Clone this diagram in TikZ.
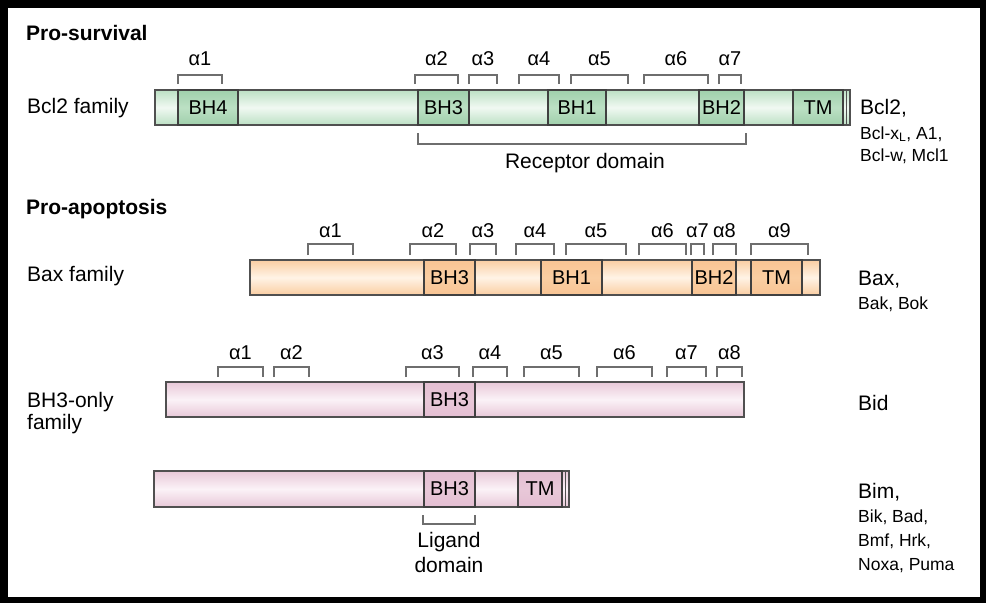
\documentclass[tikz,border=0pt]{standalone}
\usepackage{fontspec}
\setmainfont{Liberation Sans}
\usetikzlibrary{positioning}

\definecolor{survedge}{RGB}{188,224,196}
\definecolor{survmid}{RGB}{240,249,242}
\definecolor{survdom}{RGB}{160,208,172}
\definecolor{apopedge}{RGB}{250,206,162}
\definecolor{apopmid}{RGB}{255,243,230}
\definecolor{apopdom}{RGB}{248,196,148}
\definecolor{onlyedge}{RGB}{232,200,216}
\definecolor{onlymid}{RGB}{251,242,247}
\definecolor{onlydom}{RGB}{228,190,210}
\definecolor{edgegray}{RGB}{80,80,80}
\definecolor{bracketgray}{RGB}{110,110,110}

\tikzstyle{protein} = [rectangle, draw=edgegray, line width=1.3pt, inner sep=0pt, outer sep=0pt, minimum height=35pt, anchor=north west]
\tikzstyle{survbar} = [protein, top color=survedge, bottom color=survedge, middle color=survmid]
\tikzstyle{apopbar} = [protein, top color=apopedge, bottom color=apopedge, middle color=apopmid]
\tikzstyle{onlybar} = [protein, top color=onlyedge, bottom color=onlyedge, middle color=onlymid]
\tikzstyle{dombox} = [protein, draw=black!75, font=\fontsize{20}{24}\selectfont, text=black]
\tikzstyle{survbox} = [dombox, top color=survdom, bottom color=survdom, middle color=survedge]
\tikzstyle{apopbox} = [dombox, top color=apopdom, bottom color=apopdom, middle color=apopedge]
\tikzstyle{onlybox} = [dombox, top color=onlydom, bottom color=onlydom, middle color=onlyedge]
\tikzstyle{helix} = [draw=bracketgray, line width=1.8pt]
\tikzstyle{helixlabel} = [font=\fontsize{20}{24}\selectfont, anchor=base, inner sep=0pt, text=black]
\tikzstyle{heading} = [font=\bfseries\fontsize{21}{24}\selectfont, anchor=base west, inner sep=0pt]
\tikzstyle{family} = [font=\fontsize{21}{22}\selectfont, anchor=base west, inner sep=0pt, align=left]
\tikzstyle{member} = [font=\fontsize{21}{24}\selectfont, anchor=base west, inner sep=0pt]
\tikzstyle{others} = [font=\fontsize{17.5}{20}\selectfont, anchor=base west, inner sep=0pt]

\begin{document}
\begin{tikzpicture}[x=1pt, y=-1pt]

% --- Frame ---
\useasboundingbox (0,0) rectangle (986,603);
\fill[black] (0,0) rectangle (986,603);
\fill[white] (8,8) rectangle (980,597);

% --- Pro-survival: Bcl2 family ---
\node (prosurv) [heading] at (26,40) {Pro-survival};
\node (bclfam) [family] at (27,113) {Bcl2 family};
\node (bclbar) [survbar, minimum width=695pt] at (155,90) {};
\node (bh4) [survbox, minimum width=60pt] at (178,90) {BH4};
\node (bclbh3) [survbox, minimum width=51pt] at (418,90) {BH3};
\node (bclbh1) [survbox, minimum width=58pt] at (548,90) {BH1};
\node (bclbh2) [survbox, minimum width=45pt] at (699,90) {BH2};
\node (bcltm) [survbox, minimum width=50pt] at (793,90) {TM};
\draw [draw=edgegray, line width=1pt] ([xshift=-4pt]bclbar.north east) -- ([xshift=-4pt]bclbar.south east);
\foreach \a/\b/\n in {178/222/1, 415/458/2, 469/497/3, 519/559/4, 571/628/5, 644/708/6, 719/741/7} {
    \draw [helix] (\a,84) |- (\b,75) -- (\b,84);
    \node (s\n) [helixlabel] at ({(\a+\b)/2},65) {α\n};
}
\draw [helix] (418,133) |- (746,144) -- (746,133);
\node (receptor) [helixlabel, font=\fontsize{21}{24}\selectfont] at (585,168) {Receptor domain};
\node (bcl2) [member] at (860,114) {Bcl2,};
\node (bclxl) [others] at (860,139) {Bcl-x$_{\mathrm{L}}$, A1,};
\node (bclw) [others] at (860,161) {Bcl-w, Mcl1};

% --- Pro-apoptosis: Bax family ---
\node (proapop) [heading] at (26,214) {Pro-apoptosis};
\node (baxfam) [family] at (27,281) {Bax family};
\node (baxbar) [apopbar, minimum width=570pt] at (250,260) {};
\node (baxbh3) [apopbox, minimum width=51pt] at (424,260) {BH3};
\node (baxbh1) [apopbox, minimum width=61pt] at (541,260) {BH1};
\node (baxbh2) [apopbox, minimum width=44pt] at (692,260) {BH2};
\node (baxtm) [apopbox, minimum width=51pt] at (751,260) {TM};
\foreach \a/\b/\n in {308/353/1, 410/456/2, 470/496/3, 516/554/4, 566/626/5, 639/686/6, 691/704/7, 713/736/8, 751/808/9} {
    \draw [helix] (\a,255) |- (\b,244) -- (\b,255);
    \node (x\n) [helixlabel] at ({(\a+\b)/2},237) {α\n};
}
\node (bax) [member] at (858,285) {Bax,};
\node (bak) [others] at (858,309) {Bak, Bok};

% --- BH3-only family: Bid ---
\node (onlyfam) [family] at (27,429) {BH3-only\\family};
\node (bidbar) [onlybar, minimum width=578pt] at (166,382) {};
\node (bidbh3) [onlybox, minimum width=51pt] at (424,382) {BH3};
\foreach \a/\b/\n in {218/263/1, 274/309/2, 406/459/3, 473/507/4, 524/579/5, 597/652/6, 667/706/7, 717/742/8} {
    \draw [helix] (\a,377) |- (\b,367) -- (\b,377);
    \node (d\n) [helixlabel] at ({(\a+\b)/2},359) {α\n};
}
\node (bid) [member] at (858,410) {Bid};

% --- BH3-only family: Bim ---
\node (bimbar) [onlybar, minimum width=415pt, minimum height=36pt] at (154,471) {};
\node (bimbh3) [onlybox, minimum width=51pt, minimum height=36pt] at (424,471) {BH3};
\node (bimtm) [onlybox, minimum width=44pt, minimum height=36pt] at (518,471) {TM};
\draw [draw=edgegray, line width=1pt] ([xshift=-4pt]bimbar.north east) -- ([xshift=-4pt]bimbar.south east);
\draw [helix] (423,515) |- (475,524) -- (475,515);
\node (ligand) [font=\fontsize{21}{25}\selectfont, align=center, anchor=north, inner sep=0pt] at (449,532) {Ligand\\domain};
\node (bim) [member] at (858,498) {Bim,};
\node (bik) [others] at (858,522) {Bik, Bad,};
\node (bmf) [others] at (858,546) {Bmf, Hrk,};
\node (noxa) [others] at (858,570) {Noxa, Puma};

\end{tikzpicture}
\end{document}
